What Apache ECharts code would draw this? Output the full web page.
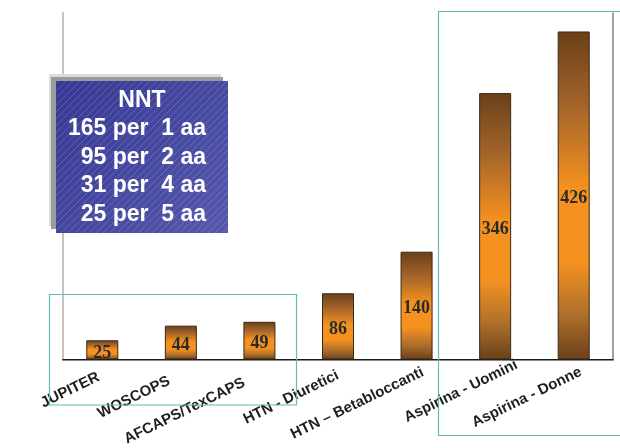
<!DOCTYPE html>
<html>
<head>
<meta charset="utf-8">
<script src="https://cdn.jsdelivr.net/npm/echarts@6/dist/echarts.min.js"></script>
<style>
html,body{margin:0;padding:0;background:#fff;}
#chart{width:620px;height:448px;}
</style>
</head>
<body>
<div id="chart"></div>
<script>
// ---- data ----
var categories = ['JUPITER', 'WOSCOPS', 'AFCAPS/TexCAPS', 'HTN - Diuretici', 'HTN \u2013 Betabloccanti', 'Aspirina - Uomini', 'Aspirina - Donne'];
var nntValues = [25, 44, 49, 86, 140, 346, 426];
var boxTitle = 'NNT';
var boxLines = ['165 per  1 aa', '95 per  2 aa', '31 per  4 aa', '25 per  5 aa'];
// per-label nudge along text direction (px, + = toward the right)
var labelShift = [-4, -13, -17, 0, 7, 24, 8];

var chart = echarts.init(document.getElementById('chart'), null, {renderer: 'canvas'});

// hatch pattern for the blue box
var pc = document.createElement('canvas');
pc.width = 7; pc.height = 7;
var pctx = pc.getContext('2d');
pctx.strokeStyle = 'rgba(255,255,255,0.17)';
pctx.lineWidth = 1;
pctx.beginPath();
pctx.moveTo(0, 7); pctx.lineTo(7, 0);
pctx.moveTo(-1, 1); pctx.lineTo(1, -1);
pctx.moveTo(6, 8); pctx.lineTo(8, 6);
pctx.stroke();

var rich = {};
labelShift.forEach(function (s, i) {
  rich['r' + i] = {
    fontFamily: 'Liberation Sans', fontWeight: 700, fontSize: 15, color: '#1e1e1e',
    padding: [0, -s, 0, 0]
  };
});

var barGradient = new echarts.graphic.LinearGradient(0, 0, 0, 1, [
  {offset: 0, color: '#6a4019'},
  {offset: 0.22, color: '#a2632a'},
  {offset: 0.48, color: '#f5921f'},
  {offset: 0.70, color: '#f5921f'},
  {offset: 0.86, color: '#b0702c'},
  {offset: 1, color: '#6a4019'}
]);

var textBase = {fontFamily: 'Liberation Sans', fontWeight: 'bold', fontSize: 23, fill: '#fff'};
var graphics = [
  {type: 'rect', shape: {x: 49, y: 74, width: 172, height: 152}, style: {fill: '#dcdcdc'}, z: 10},
  {type: 'rect', shape: {x: 51, y: 77, width: 172, height: 152}, style: {fill: '#9a9a9a'}, z: 11},
  {type: 'rect', shape: {x: 56, y: 81, width: 172, height: 152},
    style: {fill: new echarts.graphic.LinearGradient(0, 0, 1, 1, [
      {offset: 0, color: '#363893'}, {offset: 1, color: '#5558ad'}])}, z: 12},
  {type: 'rect', shape: {x: 56, y: 81, width: 172, height: 152},
    style: {fill: {image: pc, repeat: 'repeat'}}, z: 13},
  {type: 'text', x: 142, y: 101, z: 14,
    style: Object.assign({text: boxTitle, textAlign: 'center', textVerticalAlign: 'middle'}, textBase)}
];
boxLines.forEach(function (t, i) {
  graphics.push({type: 'text', x: 206, y: 129 + i * 28.5, z: 14,
    style: Object.assign({text: t, textAlign: 'right', textVerticalAlign: 'middle'}, textBase)});
});
graphics.push({type: 'rect', shape: {x: 49.5, y: 294.5, width: 247, height: 110.5},
  style: {fill: 'none', stroke: '#5fbdb9', lineWidth: 1.2}, z: 20});
graphics.push({type: 'rect', shape: {x: 438.5, y: 11.5, width: 200, height: 424},
  style: {fill: 'none', stroke: '#5fbdb9', lineWidth: 1.2}, z: 20});

chart.setOption({
  animation: false,
  backgroundColor: '#fff',
  grid: {left: 63, right: 7, top: 13, bottom: 87},
  xAxis: [{
    type: 'category', data: categories, position: 'bottom',
    axisLine: {show: true, lineStyle: {color: '#8a8a8a', width: 2}},
    axisTick: {show: false},
    axisLabel: {
      interval: 0, rotate: 26, margin: 15,
      fontFamily: 'Liberation Sans', fontWeight: 700, fontSize: 15, color: '#1e1e1e',
      formatter: function (v, i) { return '{r' + i + '|' + v + '}'; },
      rich: rich
    }
  }, {
    type: 'category', data: categories, position: 'top',
    axisLine: {show: true, lineStyle: {color: '#1a1a1a', width: 1}},
    axisTick: {show: false}, axisLabel: {show: false}
  }],
  yAxis: [{
    type: 'value', min: 0, max: 450, position: 'left',
    axisLine: {show: true, lineStyle: {color: '#c4c4c4', width: 2}},
    axisTick: {show: false}, axisLabel: {show: false}, splitLine: {show: false}
  }, {
    type: 'value', min: 0, max: 450, position: 'right',
    axisLine: {show: true, lineStyle: {color: '#808080', width: 1.5}},
    axisTick: {show: false}, axisLabel: {show: false}, splitLine: {show: false}
  }],
  series: [{
    type: 'bar', data: nntValues, barWidth: 32,
    itemStyle: {color: barGradient, borderColor: '#3a2814', borderWidth: 1},
    label: {
      show: true, position: 'inside', offset: [0, 3],
      fontFamily: 'Liberation Serif', fontWeight: 'bold', fontSize: 18, color: '#2a2a2a'
    }
  }],
  graphic: graphics
});
</script>
</body>
</html>
